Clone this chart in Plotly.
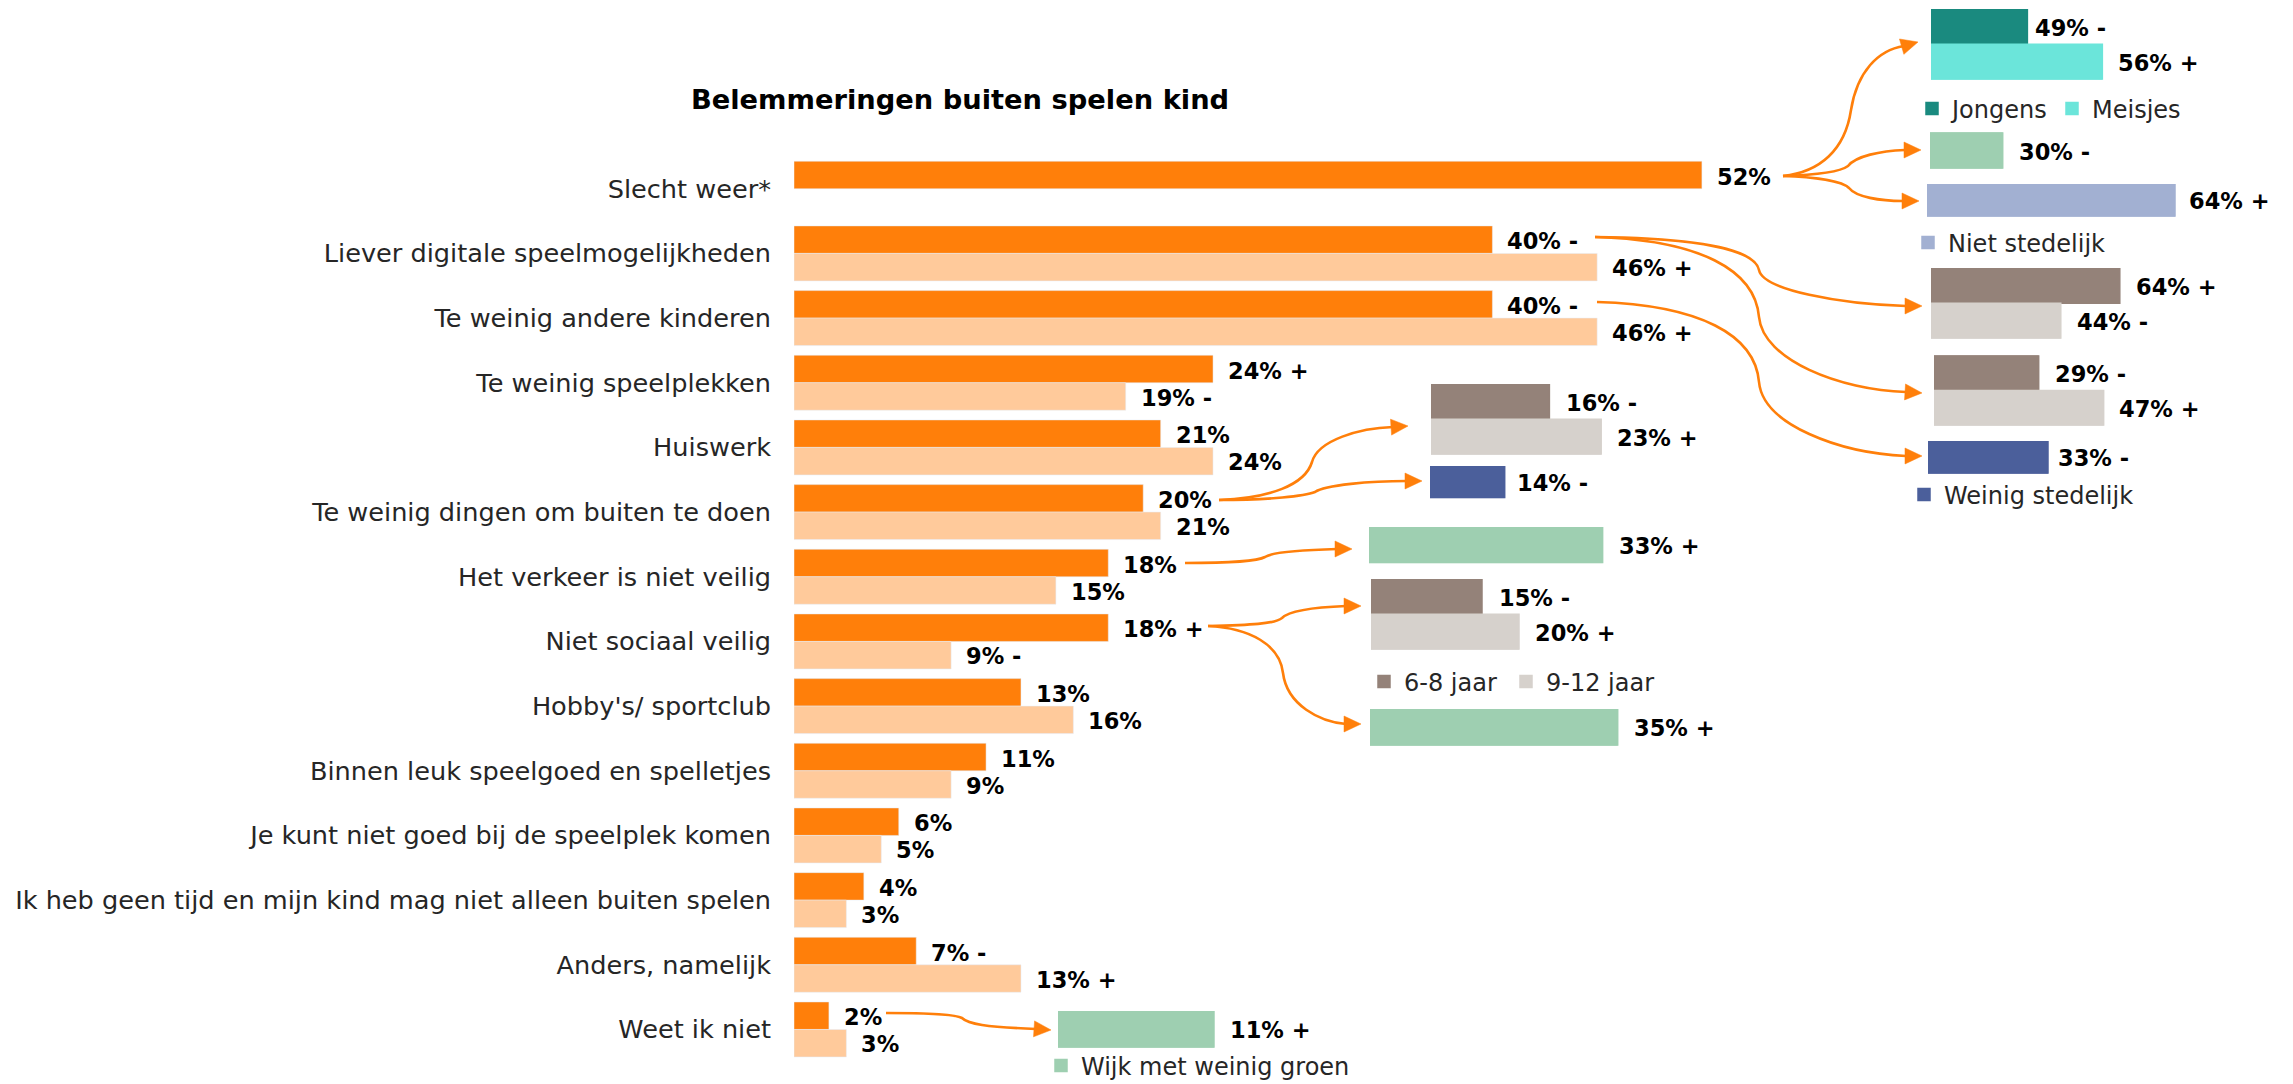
import plotly.graph_objects as go

# ---------------- data ----------------
categories = [
    "Slecht weer*",
    "Liever digitale speelmogelijkheden",
    "Te weinig andere kinderen",
    "Te weinig speelplekken",
    "Huiswerk",
    "Te weinig dingen om buiten te doen",
    "Het verkeer is niet veilig",
    "Niet sociaal veilig",
    "Hobby's/ sportclub",
    "Binnen leuk speelgoed en spelletjes",
    "Je kunt niet goed bij de speelplek komen",
    "Ik heb geen tijd en mijn kind mag niet alleen buiten spelen",
    "Anders, namelijk",
    "Weet ik niet",
]
reeks1 = [52, 40, 40, 24, 21, 20, 18, 18, 13, 11, 6, 4, 7, 2]
reeks1_sign = ["", "-", "-", "+", "", "", "", "+", "", "", "", "", "-", ""]
reeks2 = [None, 46, 46, 19, 24, 21, 15, 9, 16, 9, 5, 3, 13, 3]
reeks2_sign = ["", "+", "+", "-", "", "", "", "-", "", "", "", "", "+", ""]

gender_names = ["Jongens", "Meisjes"]
age_names = ["6-8 jaar", "9-12 jaar"]
groen_name = "Wijk met weinig groen"
niet_stedelijk_name = "Niet stedelijk"
weinig_stedelijk_name = "Weinig stedelijk"

weer_gender = [49, 56]
weer_gender_sign = ["-", "+"]
weer_groen = [30]
weer_groen_sign = ["-"]
weer_niet_stedelijk = [64]
weer_niet_stedelijk_sign = ["+"]
digitaal_leeftijd = [64, 44]
digitaal_leeftijd_sign = ["+", "-"]
kinderen_leeftijd = [29, 47]
kinderen_leeftijd_sign = ["-", "+"]
kinderen_weinig_stedelijk = [33]
kinderen_weinig_stedelijk_sign = ["-"]
dingen_leeftijd = [16, 23]
dingen_leeftijd_sign = ["-", "+"]
dingen_weinig_stedelijk = [14]
dingen_weinig_stedelijk_sign = ["-"]
verkeer_groen = [33]
verkeer_groen_sign = ["+"]
sociaal_leeftijd = [15, 20]
sociaal_leeftijd_sign = ["-", "+"]
sociaal_groen = [35]
sociaal_groen_sign = ["+"]
weetniet_groen = [11]
weetniet_groen_sign = ["+"]

# ---------------- styles ----------------
W, H = 2293, 1084
FONT = "DejaVu Sans"
TXT = "#262626"
ORANGE = "#FF7F0A"
ORANGE_L = "#FFCA9B"
C_JONGENS = "#1A8A7F"
C_MEISJES = "#6BE5DA"
C_GROEN = "#9ECFB1"
C_NIET = "#A2B0D2"
C_WEINIG = "#4B5F9B"
C_68 = "#948279"
C_912 = "#D6D1CC"
ARROW = "#FF7F0A"


def fx(p):
    return p / W


def fy(p):
    return 1 - p / H


def fmt(v, s):
    return f"{v}%" + (f" {s}" if s else "")


LABEL_FONT = dict(family=FONT, size=22.5, color="#000000", weight="bold")

fig = go.Figure()

# ---------------- main chart ----------------
MAIN_LEFT, MAIN_PX_PER_PCT = 794, 17.46
MAIN_TOP, MAIN_BOTTOM = 156.4, 1061.8
MAIN_MAX = 60

fig.add_trace(go.Bar(y=categories, x=reeks1, orientation="h", marker_color=ORANGE,
                     name="Reeks 1", showlegend=False, xaxis="x", yaxis="y", hoverinfo="skip"))
fig.add_trace(go.Bar(y=categories, x=reeks2, orientation="h", marker_color=ORANGE_L,
                     name="Reeks 2", showlegend=False, xaxis="x", yaxis="y", hoverinfo="skip"))

annotations = []
for cat, v, s in zip(categories, reeks1, reeks1_sign):
    annotations.append(dict(x=v, y=cat, xref="x", yref="y", text=fmt(v, s), showarrow=False,
                            xanchor="left", yanchor="middle", xshift=13, yshift=12, font=LABEL_FONT))
for cat, v, s in zip(categories, reeks2, reeks2_sign):
    if v is None:
        continue
    annotations.append(dict(x=v, y=cat, xref="x", yref="y", text=fmt(v, s), showarrow=False,
                            xanchor="left", yanchor="middle", xshift=13, yshift=-15, font=LABEL_FONT))

layout_axes = dict(
    xaxis=dict(domain=[fx(MAIN_LEFT), fx(MAIN_LEFT + MAIN_PX_PER_PCT * MAIN_MAX)], range=[0, MAIN_MAX],
               visible=False, fixedrange=True),
    yaxis=dict(domain=[fy(MAIN_BOTTOM), fy(MAIN_TOP)], type="category", categoryorder="array",
               categoryarray=categories, autorange="reversed", showgrid=False, zeroline=False,
               showline=False, ticks="", ticklabelstandoff=22,
               tickfont=dict(family=FONT, size=25.6, color=TXT), fixedrange=True),
)

# ---------------- insets ----------------
insets = [
    dict(names=gender_names, values=weer_gender, signs=weer_gender_sign, colors=[C_JONGENS, C_MEISJES],
         x0=1931, k=10.71, v0=40, ytop=9, ybot=79.7, legends=["legend", "legend6"], gaps=[6, 14]),
    dict(names=[groen_name], values=weer_groen, signs=weer_groen_sign, colors=[C_GROEN],
         x0=1930, k=2.424, v0=0, ytop=132.3, ybot=168.7, legends=[None], gaps=[14]),
    dict(names=[niet_stedelijk_name], values=weer_niet_stedelijk, signs=weer_niet_stedelijk_sign, colors=[C_NIET],
         x0=1927, k=3.875, v0=0, ytop=184, ybot=216.7, legends=["legend2"], gaps=[12]),
    dict(names=age_names, values=digitaal_leeftijd, signs=digitaal_leeftijd_sign, colors=[C_68, C_912],
         x0=1931, k=2.95, v0=0, ytop=268, ybot=338.7, legends=[None, None], gaps=[14, 14]),
    dict(names=age_names, values=kinderen_leeftijd, signs=kinderen_leeftijd_sign, colors=[C_68, C_912],
         x0=1934, k=3.61, v0=0, ytop=355.3, ybot=425.7, legends=[None, None], gaps=[14, 13]),
    dict(names=[weinig_stedelijk_name], values=kinderen_weinig_stedelijk, signs=kinderen_weinig_stedelijk_sign,
         colors=[C_WEINIG], x0=1928, k=3.636, v0=0, ytop=441, ybot=473.7, legends=["legend3"], gaps=[8]),
    dict(names=age_names, values=dingen_leeftijd, signs=dingen_leeftijd_sign, colors=[C_68, C_912],
         x0=1431, k=7.4, v0=0, ytop=384, ybot=454.7, legends=[None, None], gaps=[15, 14]),
    dict(names=[weinig_stedelijk_name], values=dingen_weinig_stedelijk, signs=dingen_weinig_stedelijk_sign,
         colors=[C_WEINIG], x0=1430, k=5.336, v0=0, ytop=466, ybot=498.3, legends=[None], gaps=[10]),
    dict(names=[groen_name], values=verkeer_groen, signs=verkeer_groen_sign, colors=[C_GROEN],
         x0=1369, k=7.08, v0=0, ytop=527, ybot=563.3, legends=[None], gaps=[14]),
    dict(names=age_names, values=sociaal_leeftijd, signs=sociaal_leeftijd_sign, colors=[C_68, C_912],
         x0=1371, k=7.4, v0=0, ytop=579, ybot=649.7, legends=["legend4", "legend7"], gaps=[15, 14]),
    dict(names=[groen_name], values=sociaal_groen, signs=sociaal_groen_sign, colors=[C_GROEN],
         x0=1370, k=7.077, v0=0, ytop=709, ybot=745.7, legends=[None], gaps=[14]),
    dict(names=[groen_name], values=weetniet_groen, signs=weetniet_groen_sign, colors=[C_GROEN],
         x0=1058, k=14.18, v0=0, ytop=1011, ybot=1047.7, legends=["legend5"], gaps=[14]),
]

for i, ins in enumerate(insets):
    n = i + 2
    xa, ya = f"x{n}", f"y{n}"
    span = min(300, W - ins["x0"])
    layout_axes[f"xaxis{n}"] = dict(domain=[fx(ins["x0"]), fx(ins["x0"] + span)],
                                    range=[ins["v0"], ins["v0"] + span / ins["k"]],
                                    visible=False, fixedrange=True, anchor=ya)
    nb = len(ins["values"])
    layout_axes[f"yaxis{n}"] = dict(domain=[fy(ins["ybot"]), fy(ins["ytop"])],
                                    range=[nb - 0.5, -0.5], visible=False, fixedrange=True, anchor=xa)
    for j, (name, v, s, c, lg) in enumerate(zip(ins["names"], ins["values"], ins["signs"],
                                                  ins["colors"], ins["legends"])):
        tr = dict(y=[j], x=[v], orientation="h", marker=dict(color=c, line=dict(width=1.5, color=c)),
                  name=name, width=1, offset=-0.5, xaxis=xa, yaxis=ya, hoverinfo="skip",
                  showlegend=lg is not None)
        if lg:
            tr["legend"] = lg
        fig.add_trace(go.Bar(**tr))
        annotations.append(dict(x=v, y=j, xref=xa, yref=ya, text=fmt(v, s), showarrow=False,
                                xanchor="left", yanchor="middle", xshift=ins["gaps"][j], yshift=-1,
                                font=LABEL_FONT))

# ---------------- connector arrows (decorations, pixel space) ----------------
arrows = [
    ([(1783, 176), (1820, 172), (1845, 150), (1851, 110), (1857, 72), (1878, 50), (1904, 46)], (1918, 42)),
    ([(1783, 176), (1815, 175), (1840, 172), (1848, 166), (1856, 156), (1880, 151), (1905, 150)], (1921, 150)),
    ([(1783, 176), (1815, 177), (1842, 181), (1849, 188), (1856, 197), (1880, 201), (1903, 201)], (1919, 201)),
    ([(1595, 237), (1700, 238), (1755, 250), (1759, 270), (1763, 290), (1840, 304), (1906, 306)], (1922, 306)),
    ([(1595, 237), (1700, 240), (1755, 270), (1759, 317), (1763, 360), (1840, 390), (1906, 392)], (1922, 393)),
    ([(1597, 302), (1700, 305), (1755, 335), (1759, 382), (1763, 425), (1840, 453), (1906, 456)], (1922, 456)),
    ([(1219, 500), (1270, 498), (1305, 485), (1312, 462), (1318, 440), (1360, 428), (1393, 427)], (1408, 426)),
    ([(1219, 500), (1270, 500), (1305, 496), (1315, 492), (1325, 485), (1370, 481), (1407, 481)], (1422, 481)),
    ([(1185, 563), (1230, 563), (1258, 561), (1265, 557), (1272, 552), (1300, 550), (1337, 549)], (1352, 549)),
    ([(1208, 626), (1250, 625), (1275, 624), (1282, 618), (1290, 610), (1320, 607), (1346, 606)], (1361, 606)),
    ([(1208, 626), (1250, 628), (1280, 645), (1283, 673), (1287, 705), (1320, 722), (1346, 724)], (1361, 724)),
    ([(886, 1013), (930, 1013), (955, 1014), (962, 1018), (968, 1024), (985, 1027), (1036, 1029)], (1051, 1030)),
]


def P(pt):
    return f"{fx(pt[0]):.6f},{fy(pt[1]):.6f}"


shapes = []
for pts, tip in arrows:
    d = "M" + P(pts[0])
    for k in range(1, len(pts), 3):
        d += " C" + " ".join(P(p) for p in pts[k:k + 3])
    shapes.append(dict(type="path", path=d, xref="paper", yref="paper",
                       line=dict(color=ARROW, width=2.6), fillcolor="rgba(0,0,0,0)", layer="above"))
    ex, ey = pts[-1]
    dx, dy = tip[0] - ex, tip[1] - ey
    ln = (dx * dx + dy * dy) ** 0.5
    ux, uy = dx / ln, dy / ln
    L, hw = 17, 8
    bx, by = tip[0] - ux * L, tip[1] - uy * L
    p1 = (bx - uy * hw, by + ux * hw)
    p2 = (bx + uy * hw, by - ux * hw)
    shapes.append(dict(type="path", path=f"M{P(tip)} L{P(p1)} L{P(p2)} Z", xref="paper", yref="paper",
                       line=dict(color=ARROW, width=0.5), fillcolor=ARROW, layer="above"))

LEG = dict(orientation="h", xanchor="left", yanchor="middle", bgcolor="rgba(0,0,0,0)",
           font=dict(family=FONT, size=24, color=TXT), itemclick=False, itemdoubleclick=False)


def leg(sq_left, cy):
    return dict(LEG, x=fx(sq_left - 19), y=fy(cy + 2))


fig.update_layout(
    width=W, height=H, margin=dict(l=0, r=0, t=0, b=0, autoexpand=False),
    paper_bgcolor="white", plot_bgcolor="rgba(0,0,0,0)",
    barmode="group", bargap=0.15, bargroupgap=0,
    title=dict(text="Belemmeringen buiten spelen kind", x=fx(960), xanchor="center",
               y=fy(99), yanchor="middle", font=dict(family=FONT, size=27.3, color="#000000", weight="bold")),
    annotations=annotations, shapes=shapes,
    legend=leg(1931, 107),
    legend6=leg(2071, 107),
    legend2=leg(1927, 241),
    legend3=leg(1923, 493),
    legend4=leg(1383, 680),
    legend7=leg(1525, 680),
    legend5=leg(1060, 1064),
    **layout_axes,
)

fig.write_html("out.html", config={"displayModeBar": False},
               post_script="document.body.style.margin='0px';document.body.style.overflow='hidden';")
